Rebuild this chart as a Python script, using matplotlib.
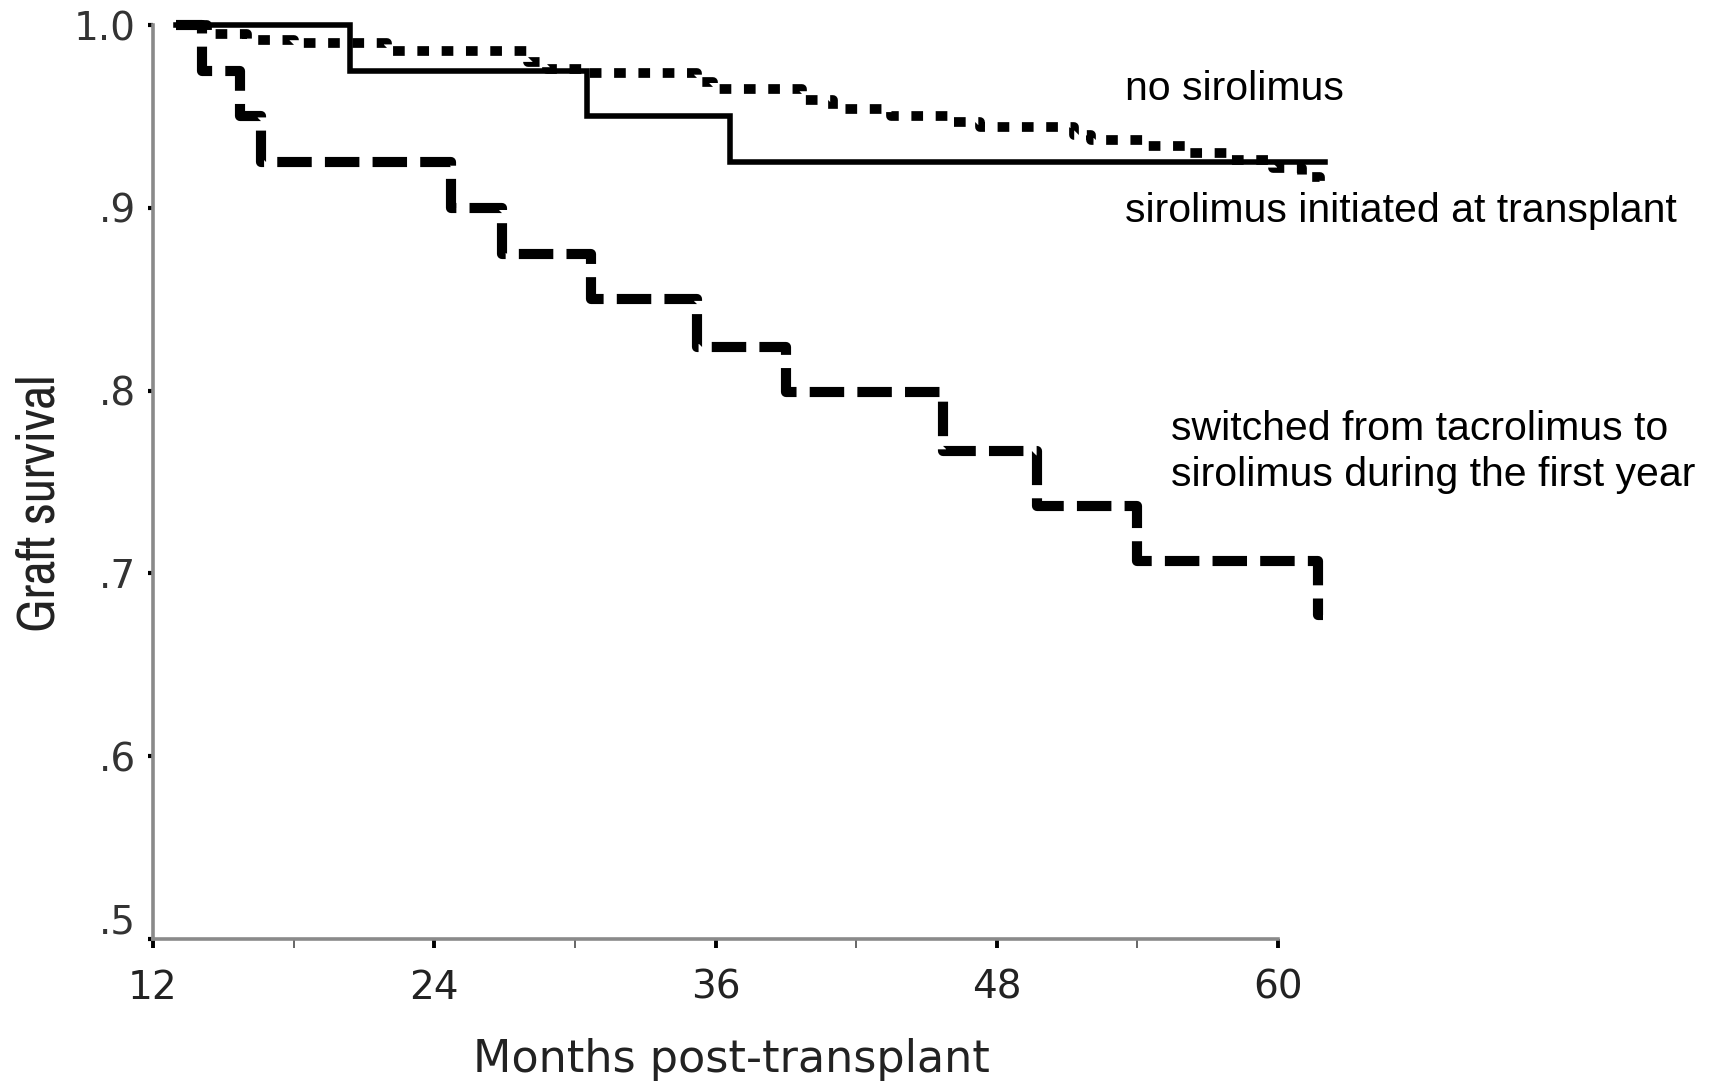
import matplotlib
matplotlib.use("Agg")
import matplotlib.pyplot as plt
from matplotlib import font_manager
from matplotlib.transforms import ScaledTranslation

# ---- data -------------------------------------------------------------
# Kaplan-Meier step curves: event times (months) and survival after each step
no_siro_t = [13.0, 14.3, 16.0, 18.0, 22.0, 28.0, 28.8, 30.5, 35.2, 35.9, 39.7,
             41.0, 43.5, 46.0, 47.3, 51.3, 52.0, 54.4, 56.2, 57.9, 59.8, 61.0, 61.8]
no_siro_s = [1.000, 0.995, 0.992, 0.990, 0.986, 0.980, 0.976, 0.974, 0.969, 0.965, 0.959,
             0.954, 0.950, 0.947, 0.944, 0.940, 0.937, 0.934, 0.930, 0.926, 0.922, 0.917, 0.911]
no_siro_end = 62.0

init_t = [13.0, 20.4, 30.5, 36.6]
init_s = [1.000, 0.975, 0.950, 0.925]
init_end = 62.0

switch_t = [13.0, 14.1, 15.7, 16.6, 24.7, 26.9, 30.7, 35.2, 39.0, 45.7, 49.7, 54.0, 61.7]
switch_s = [1.000, 0.975, 0.950, 0.925, 0.900, 0.875, 0.850, 0.824, 0.799, 0.767, 0.737, 0.707, 0.677]
switch_end = 61.9

x_major = [12, 24, 36, 48, 60]
x_minor = [18, 30, 42, 54]
y_ticks = [0.5, 0.6, 0.7, 0.8, 0.9, 1.0]
y_labels = [".5", ".6", ".7", ".8", ".9", "1.0"]

label_no = "no sirolimus"
label_init = "sirolimus initiated at transplant"
label_switch = "switched from tacrolimus to\nsirolimus during the first year"

# ---- fonts ------------------------------------------------------------
available = sorted({f.name for f in font_manager.fontManager.ttflist})
condensed = [n for n in available if "Narrow" in n or "Condensed" in n]
narrow = condensed[0] if condensed else None
wide = "DejaVu Sans"
plain = "Liberation Sans"

# ---- figure -----------------------------------------------------------
fig = plt.figure(figsize=(17.16, 10.82), dpi=100)
ax = fig.add_axes([0.08916, 0.13216, 0.6898, 0.8447])
ax.set_xlim(12, 62.5)
ax.set_ylim(0.5, 1.0)


def km(t, s, end):
    xs = list(t) + [end]
    ys = list(s) + [s[-1]]
    return xs, ys


x, y = km(switch_t, switch_s, switch_end)
ax.step(x, y, where="post", color="black", lw=7.3,
        linestyle=(0, (3.4, 1.3)), dash_capstyle="butt", clip_on=False, zorder=3)

x, y = km(init_t, init_s, init_end)
ax.step(x, y, where="post", color="black", lw=4.0, clip_on=False, zorder=4,
        solid_joinstyle="miter")

x, y = km(no_siro_t, no_siro_s, no_siro_end)
ax.step(x, y, where="post", color="black", lw=7.0,
        linestyle=(0, (1.2, 1.3)), dash_capstyle="butt", clip_on=False, zorder=5)

# ---- axes styling -----------------------------------------------------
for side in ("top", "right"):
    ax.spines[side].set_visible(False)
for side in ("left", "bottom"):
    ax.spines[side].set_color("#8a8a8a")
    ax.spines[side].set_linewidth(2.6)
ax.spines["left"].set_bounds(0.5, 1.0)
ax.spines["bottom"].set_bounds(12, 60)

ax.set_xticks(x_major)
ax.set_xticks(x_minor, minor=True)
ax.set_xticklabels([str(v) for v in x_major], fontfamily=wide, fontsize=28, color="#222222")
ax.set_yticks(y_ticks)
ax.set_yticklabels(y_labels, fontfamily=wide, fontsize=28, color="#333333")

ax.tick_params(axis="x", which="major", direction="out", length=6.5, width=2.8,
               color="black", pad=15)
ax.tick_params(axis="x", which="minor", direction="out", length=6.5, width=1.4,
               color="#666666")
ax.tick_params(axis="y", which="major", direction="out", length=3.5, width=3.0,
               color="black", pad=9)

# the lowest y label sits a little above its tick
low = ax.get_yticklabels()[0]
low.set_transform(low.get_transform() + ScaledTranslation(0, 15 / 72, fig.dpi_scale_trans))

ax.set_xlabel("Months post-transplant", fontfamily=wide, fontsize=32, color="#222222",
              va="top")
ax.xaxis.set_label_coords(0.489, -0.108)
if narrow:
    ax.set_ylabel("Graft survival", fontfamily=narrow, fontsize=38, color="#222222")
else:
    ax.set_ylabel("Graft survival", fontfamily=plain, fontsize=34, color="#222222")
ax.yaxis.set_label_coords(-0.076, 0.477)

# ---- curve labels -----------------------------------------------------
ax.text(53.45, 0.9650, label_no, fontfamily=plain, fontsize=29.5, va="center", ha="left")
ax.text(53.47, 0.8985, label_init, fontfamily=plain, fontsize=29.5, va="center", ha="left")
ax.text(55.43, 0.7665, label_switch, fontfamily=plain, fontsize=29.5, va="center", ha="left",
        linespacing=1.27)

fig.savefig("out.png", dpi=100)
